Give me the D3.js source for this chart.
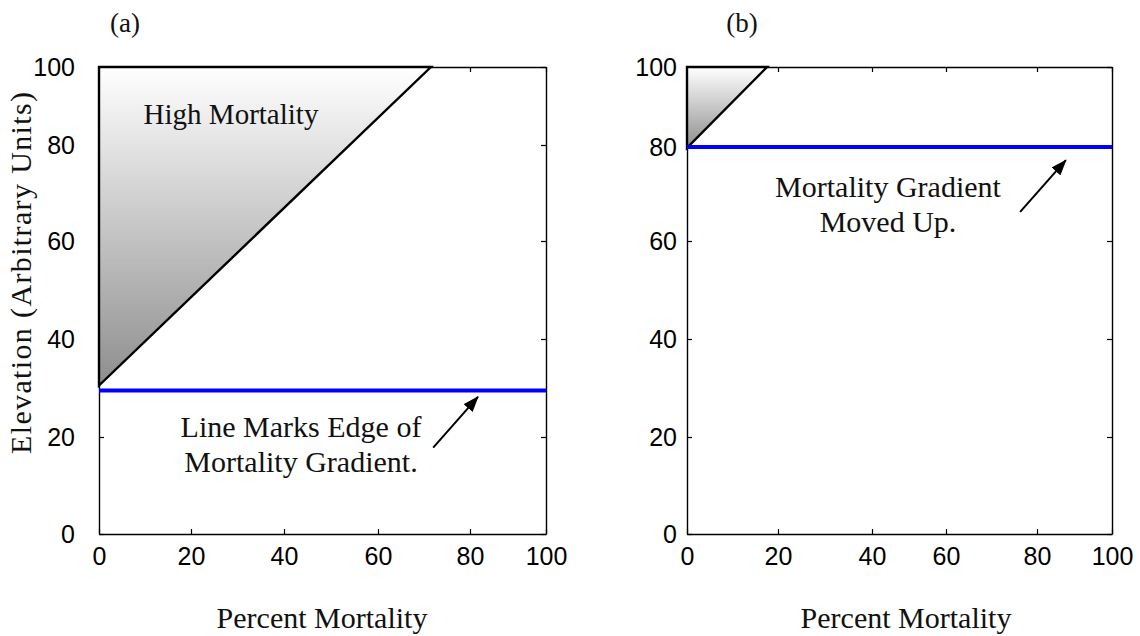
<!DOCTYPE html>
<html>
<head>
<meta charset="utf-8">
<script src="https://cdn.jsdelivr.net/npm/d3@7"></script>
<style>
  html, body { margin: 0; padding: 0; background: #fff; }
  svg { display: block; }
  .serif { font-family: "Liberation Serif", "DejaVu Serif", serif; fill: #111; }
  .tick text { font-family: "Liberation Sans", Arial, sans-serif; font-size: 25px; fill: #000; }
</style>
</head>
<body>
<svg id="fig" width="1140" height="636"></svg>
<script>
// ---- data ----
const tickValues = [0, 20, 40, 60, 80, 100];
const tickLabels = ["0", "20", "40", "60", "80", "100"];

// panel (a): high-mortality wedge and gradient edge
const wedgeA = [[0, 30.5], [0, 100], [71.5, 100]];
const edgeA = 29.5;
const arrowA = [[72, 17.8], [82.1, 28.2]];
const noteA = ["Line Marks Edge of", "Mortality Gradient."];

// panel (b): wedge after the gradient moved up
const wedgeB = [[0, 79.8], [0, 100], [17.6, 100]];
const edgeB = 80;
const arrowB = [[76.3, 66.2], [87.7, 77.2]];
const noteB = ["Mortality Gradient", "Moved Up."];

// ---- layout (pixel positions of the axis ticks) ----
const panels = [
  {
    id: "a", letter: "(a)",
    xRange: [99, 191, 284, 378, 470, 546],
    yRange: [534, 437, 339, 241, 145, 67],
    wedge: wedgeA, edge: edgeA, arrow: arrowA,
    note: noteA, noteX: 301, noteY: 437,
    yPad: 24, ylabel: true,
    title: "High Mortality", titleX: 231, titleY: 124,
    letterX: 125, xlabelX: 322
  },
  {
    id: "b", letter: "(b)",
    xRange: [687, 778, 872, 946, 1037, 1112],
    yRange: [534, 437, 339, 241, 147, 67],
    wedge: wedgeB, edge: edgeB, arrow: arrowB,
    note: noteB, noteX: 888, noteY: 197,
    yPad: 10, ylabel: false,
    title: null,
    letterX: 742, xlabelX: 906
  }
];

const svg = d3.select("#fig");
const defs = svg.append("defs");

defs.append("marker")
  .attr("id", "head")
  .attr("viewBox", "0 0 16 12")
  .attr("refX", 15).attr("refY", 6)
  .attr("markerWidth", 16).attr("markerHeight", 12)
  .attr("markerUnits", "userSpaceOnUse")
  .attr("orient", "auto")
  .append("path")
  .attr("d", "M0,0 L16,6 L0,12 Z")
  .attr("fill", "#000");

const grad = defs.append("linearGradient")
  .attr("id", "wedgeFill")
  .attr("x1", 0).attr("y1", 0).attr("x2", 0).attr("y2", 1);
grad.append("stop").attr("offset", "0%").attr("stop-color", "#ffffff");
grad.append("stop").attr("offset", "100%").attr("stop-color", "#8e8e8e");

panels.forEach(p => {
  const x = d3.scaleLinear().domain(tickValues).range(p.xRange);
  const y = d3.scaleLinear().domain(tickValues).range(p.yRange);
  const g = svg.append("g").attr("class", "panel-" + p.id);
  const x0 = x(0), x1 = x(100), y0 = y(0), y1 = y(100);
  const fmt = (d, i) => tickLabels[i];

  // box axes with inward ticks
  const bottom = d3.axisBottom(x).tickValues(tickValues).tickFormat(fmt)
    .tickSizeInner(-5).tickSizeOuter(0).tickPadding(13);
  const left = d3.axisLeft(y).tickValues(tickValues).tickFormat(fmt)
    .tickSizeInner(-5).tickSizeOuter(0).tickPadding(p.yPad);
  const top = d3.axisTop(x).tickValues(tickValues).tickFormat("")
    .tickSizeInner(-5).tickSizeOuter(0);
  const right = d3.axisRight(y).tickValues(tickValues).tickFormat("")
    .tickSizeInner(-5).tickSizeOuter(0);

  const styleAxis = sel => {
    sel.select(".domain").attr("stroke", "#000").attr("stroke-width", 1.4);
    sel.selectAll(".tick line").attr("stroke", "#000").attr("stroke-width", 1.2);
  };
  g.append("g").attr("transform", `translate(0,${y0})`).call(bottom).call(styleAxis);
  g.append("g").attr("transform", `translate(${x0},0)`).call(left).call(styleAxis);
  g.append("g").attr("transform", `translate(0,${y1})`).call(top).call(styleAxis);
  g.append("g").attr("transform", `translate(${x1},0)`).call(right).call(styleAxis);

  // shaded wedge
  g.append("path")
    .attr("d", d3.line().x(d => x(d[0])).y(d => y(d[1]))(p.wedge) + "Z")
    .attr("fill", "url(#wedgeFill)")
    .attr("stroke", "#000")
    .attr("stroke-width", 2.4)
    .attr("stroke-linejoin", "miter");

  // mortality gradient edge
  g.append("line")
    .attr("x1", x(0)).attr("x2", x(100))
    .attr("y1", y(p.edge)).attr("y2", y(p.edge))
    .attr("stroke", "#0000ff")
    .attr("stroke-width", 4);

  // arrow pointing at the edge line
  g.append("line")
    .attr("x1", x(p.arrow[0][0])).attr("y1", y(p.arrow[0][1]))
    .attr("x2", x(p.arrow[1][0])).attr("y2", y(p.arrow[1][1]))
    .attr("stroke", "#000").attr("stroke-width", 2)
    .attr("marker-end", "url(#head)");

  // annotation text
  p.note.forEach((t, i) => {
    g.append("text").attr("class", "serif")
      .attr("x", p.noteX).attr("y", p.noteY + i * 35)
      .attr("text-anchor", "middle")
      .style("font-size", "30px")
      .text(t);
  });
  if (p.title) {
    g.append("text").attr("class", "serif")
      .attr("x", p.titleX).attr("y", p.titleY)
      .attr("text-anchor", "middle")
      .style("font-size", "29px")
      .text(p.title);
  }

  // panel letter
  g.append("text").attr("class", "serif")
    .attr("x", p.letterX).attr("y", 32)
    .attr("text-anchor", "middle")
    .style("font-size", "27px")
    .text(p.letter);

  // x axis title
  g.append("text").attr("class", "serif")
    .attr("x", p.xlabelX).attr("y", 628)
    .attr("text-anchor", "middle")
    .style("font-size", "30px")
    .text("Percent Mortality");

  if (p.ylabel) {
    g.append("text").attr("class", "serif")
      .attr("transform", "translate(31,273) rotate(-90)")
      .attr("text-anchor", "middle")
      .style("font-size", "30px")
      .attr("textLength", 362)
      .attr("lengthAdjust", "spacing")
      .text("Elevation (Arbitrary Units)");
  }
});
</script>
</body>
</html>
